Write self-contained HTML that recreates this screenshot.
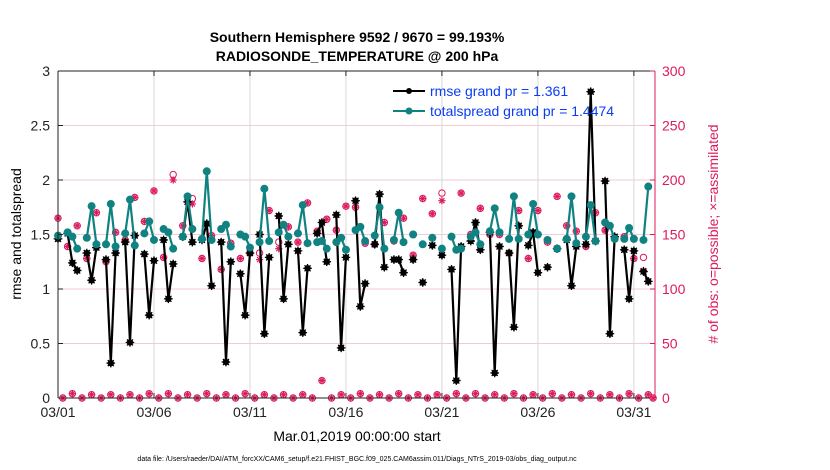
<!DOCTYPE html>
<html><head><meta charset="utf-8"><style>
html,body{margin:0;padding:0;background:#fff;}
svg{display:block;font-family:"Liberation Sans",sans-serif;}
</style></head><body>
<svg id="chart" width="830" height="470" viewBox="0 0 830 470" xmlns="http://www.w3.org/2000/svg">
<rect x="0" y="0" width="830" height="470" fill="#fff"/>
<text x="357" y="42" text-anchor="middle" font-size="14" font-weight="bold">Southern Hemisphere 9592 / 9670 = 99.193%</text>
<text x="357" y="61" text-anchor="middle" font-size="14" font-weight="bold">RADIOSONDE_TEMPERATURE @ 200 hPa</text>
<g id="grid"></g>
<g id="series"></g>
<g id="axes"></g>
<text transform="translate(21,234) rotate(-90)" text-anchor="middle" font-size="14">rmse and totalspread</text>
<text transform="translate(718,234) rotate(-90)" text-anchor="middle" font-size="14" fill="#dc1b5e">#  of obs: o=possible; ×=assimilated</text>
<text x="357" y="441" text-anchor="middle" font-size="14">Mar.01,2019 00:00:00 start</text>
<text x="357" y="461" text-anchor="middle" font-size="7">data file: /Users/raeder/DAI/ATM_forcXX/CAM6_setup/f.e21.FHIST_BGC.f09_025.CAM6assim.011/Diags_NTrS_2019-03/obs_diag_output.nc</text>
<g>
<line x1="393" y1="91" x2="425" y2="91" stroke="#000" stroke-width="2"/>
<circle cx="409" cy="91" r="3" fill="#000"/>
<text x="430" y="96" font-size="14" fill="#0a3cf5">rmse grand pr = 1.361</text>
<line x1="393" y1="111" x2="425" y2="111" stroke="#108282" stroke-width="2"/>
<circle cx="409" cy="111" r="3.5" fill="#108282"/>
<text x="430" y="116" font-size="14" fill="#0a3cf5">totalspread grand pr = 1.4474</text>
</g>
</svg>
<script>
const rmse=[1.46,null,1.51,1.24,1.17,null,1.33,1.08,1.38,null,1.27,0.32,1.33,null,1.43,0.51,1.49,null,1.32,0.76,1.26,null,1.45,0.91,1.23,null,1.48,1.80,1.43,null,1.45,1.60,1.03,null,1.43,0.33,1.25,null,1.14,0.76,1.33,null,1.50,0.59,1.29,null,1.67,0.91,1.41,null,1.35,0.60,1.19,null,1.51,1.61,1.25,null,1.68,0.46,1.29,null,1.81,0.84,1.05,null,1.41,1.87,1.20,null,1.27,1.27,1.15,null,1.27,null,1.06,null,1.40,null,1.31,null,1.18,0.16,1.39,null,1.44,1.61,1.36,null,1.52,0.23,1.39,null,1.33,0.65,1.58,null,1.40,1.52,1.15,null,1.20,null,1.37,null,1.45,1.03,1.39,null,1.41,2.81,1.44,null,1.99,0.59,1.48,null,1.36,0.91,1.35,null,1.16,1.07,null];
const spread=[1.49,null,1.52,1.48,1.37,null,1.47,1.76,1.41,null,1.41,1.78,1.39,null,1.51,1.82,1.40,null,1.51,1.62,1.45,null,1.55,1.52,1.37,null,1.48,1.85,1.55,null,1.46,2.08,1.45,null,1.55,1.59,1.39,null,1.50,1.48,1.38,null,1.43,1.92,1.44,null,1.52,1.59,1.48,null,1.51,1.77,1.42,null,1.43,1.44,1.37,null,1.43,1.47,1.36,null,1.54,1.57,1.44,null,1.49,1.75,1.37,null,1.45,1.70,1.43,null,1.50,null,1.41,null,1.47,null,1.37,null,1.48,1.36,1.37,null,1.48,1.52,1.41,null,1.53,1.74,1.52,null,1.46,1.85,1.46,null,1.50,1.78,1.50,null,1.45,null,1.37,null,1.46,1.85,1.42,null,1.48,1.77,1.44,null,1.61,1.58,1.46,null,1.46,1.56,1.46,null,1.45,1.94,null];
const assimEven=[165,139,158,128,170,125,152,145,184,162,190,129,200,158,178,128,149,118,142,128,133,127,172,137,157,143,179,153,164,154,176,175,142,141,161,144,165,131,183,169,181,148,188,150,174,150,150,133,172,128,172,143,185,158,153,139,170,154,147,148,128,117,0];
const possEven=[165,139,158,128,170,125,152,145,184,162,190,129,205,158,183,128,149,118,142,128,133,133,172,143,157,143,179,153,164,154,176,175,142,141,161,144,165,131,183,169,188,148,188,150,174,150,150,133,172,128,172,143,185,158,153,139,170,154,147,148,128,129,0];
const assimOdd=[0,4,0,3,0,3,0,3,0,4,0,4,0,3,0,4,0,3,0,4,0,3,0,3,0,3,0,16,0,3,0,4,0,3,0,4,0,3,0,3,0,4,0,4,0,3,0,4,0,3,0,4,0,3,0,4,0,3,0,4,0,3];
const xTickLabels=["03/01","03/06","03/11","03/16","03/21","03/26","03/31"];
const xTickDays=[0,5,10,15,20,25,30];
const yTicks=[0,0.5,1,1.5,2,2.5,3];
const y2Ticks=[0,50,100,150,200,250,300];

const L=58,R=655,T=71,B=398,XMAX=31.1;
const NS="http://www.w3.org/2000/svg";
const xs=d=>L+(d/XMAX)*(R-L);
const xt=t=>xs(t*0.25);
const ys=v=>B-(v/3)*(B-T);
const y2=v=>B-(v/300)*(B-T);
function mk(tag,at,parent){const e=document.createElementNS(NS,tag);for(const k in at)e.setAttribute(k,at[k]);parent.appendChild(e);return e;}
const grid=document.getElementById('grid'),ser=document.getElementById('series'),ax=document.getElementById('axes');

y2Ticks.forEach((v,i)=>{if(v>0&&v<300){const g=mk('line',{x1:L,x2:R,y1:y2(v),y2:y2(v),stroke:'#f4c9d8','stroke-width':1},grid);

}});
xTickDays.forEach(d=>{if(d>0){const g=mk('line',{x1:xs(d),x2:xs(d),y1:T,y2:B,stroke:'#d8d8d8','stroke-width':1},grid);

}});

function star(cx,cy,r,col,w,parent){const g=mk('g',{stroke:col,'stroke-width':w},parent);
[[r,0],[0,r],[r*0.7,r*0.7],[r*0.7,-r*0.7]].forEach(([a,b])=>mk('line',{x1:cx-a,y1:cy-b,x2:cx+a,y2:cy+b},g));return g;}

function drawLine(arr,col,name){let d='';let pen=false;
arr.forEach((v,t)=>{if(v===null){pen=false;return;}d+=(pen?'L':'M')+xt(t).toFixed(1)+','+ys(v).toFixed(1);pen=true;});
const p=mk('path',{d:d,fill:'none',stroke:col,'stroke-width':2.2,'stroke-linejoin':'round'},ser);

}

function countAt(t,evenArr,oddArr){return t%2===0?evenArr[t/2]:oddArr[(t-1)/2];}
for(let t=0;t<=124;t++){
 const a=countAt(t,assimEven,assimOdd), p=countAt(t,possEven,assimOdd);
 if(a===undefined)continue;
 const c=mk('circle',{cx:xt(t),cy:y2(p),r:3.2,fill:'none',stroke:'#dc1b5e','stroke-width':1},ser);
 
 
 const s=star(xt(t),y2(a),3.6,'#dc1b5e',1.2,ser);
 
 
}

drawLine(rmse,'#000','rmse');
rmse.forEach((v,t)=>{if(v===null)return;
 const c=mk('circle',{cx:xt(t),cy:ys(v),r:3.2,fill:'#000'},ser);
 
 
 star(xt(t),ys(v),4.3,'#000',1.3,ser);});
drawLine(spread,'#108282','totalspread');
spread.forEach((v,t)=>{if(v===null)return;
 const c=mk('circle',{cx:xt(t),cy:ys(v),r:4,fill:'#108282'},ser);
 
 });

mk('line',{x1:L,y1:T,x2:R,y2:T,stroke:'#222','stroke-width':1},ax);
mk('line',{x1:L,y1:B,x2:R,y2:B,stroke:'#222','stroke-width':1},ax);
mk('line',{x1:L,y1:T,x2:L,y2:B,stroke:'#222','stroke-width':1},ax);
mk('line',{x1:R,y1:T,x2:R,y2:B,stroke:'#dc1b5e','stroke-width':1},ax);
yTicks.forEach(v=>{mk('line',{x1:L,x2:L+5,y1:ys(v),y2:ys(v),stroke:'#222'},ax);
 const tx=mk('text',{x:L-8,y:ys(v)+5,'text-anchor':'end','font-size':14,fill:'#222'},ax);tx.textContent=String(v);
 
 });
y2Ticks.forEach(v=>{mk('line',{x1:R-5,x2:R,y1:y2(v),y2:y2(v),stroke:'#dc1b5e'},ax);
 const tx=mk('text',{x:R+7,y:y2(v)+5,'font-size':14,fill:'#dc1b5e'},ax);tx.textContent=String(v);
 
 });
xTickDays.forEach((d,i)=>{mk('line',{x1:xs(d),x2:xs(d),y1:B,y2:B-5,stroke:'#222'},ax);mk('line',{x1:xs(d),x2:xs(d),y1:T,y2:T+5,stroke:'#222'},ax);
 const tx=mk('text',{x:xs(d),y:B+19,'text-anchor':'middle','font-size':14,fill:'#222'},ax);tx.textContent=xTickLabels[i];
 
 });
</script>
</body></html>
